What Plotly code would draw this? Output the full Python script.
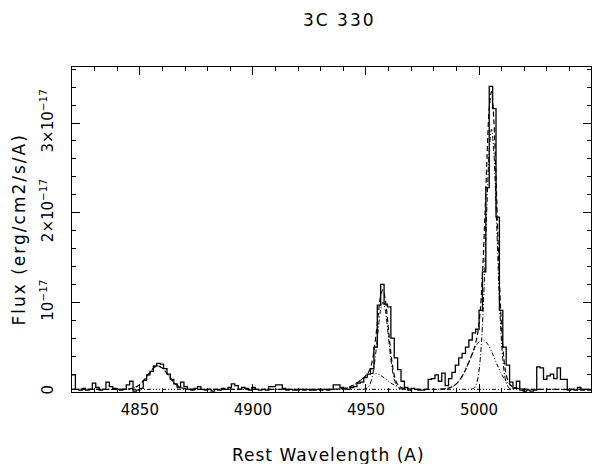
import numpy as np
import plotly.graph_objects as go

# ---------------- data (flux in units of 1e-17 erg/cm2/s/A) ----------------
bin_start = 4820.0
bin_width = 1.5
flux = [0.19, 0.03, 0.02, 0.04, 0.02, 0.03, 0.10, 0.05, 0.02, 0.03,
        0.11, 0.06, 0.04, 0.03, 0.02, 0.03, 0.08, 0.12, 0.01, 0.02,
        0.04, 0.13, 0.19, 0.23, 0.29, 0.32, 0.31, 0.26, 0.20, 0.14,
        0.09, 0.05, 0.11, 0.06,
        0.03, 0.02, 0.04, 0.06, 0.03, 0.02, 0.03, 0.01, 0.03, 0.02,
        0.04, 0.03, 0.05, 0.09, 0.07, 0.03, 0.05, 0.04, 0.02, 0.05,
        0.03, 0.02, 0.03, 0.02, 0.06, 0.06, 0.08, 0.08, 0.04, 0.02,
        0.03, 0.02, 0.02, 0.03, 0.02, 0.03, 0.02, 0.02, 0.03, 0.02,
        0.03, 0.02, 0.03, 0.08, 0.08, 0.05,
        0.04, 0.03, 0.05, 0.06, 0.10, 0.11, 0.16, 0.20, 0.26, 0.50,
        0.97, 1.20, 0.98, 0.95, 0.60, 0.38, 0.25, 0.12, 0.05, 0.02,
        0.04, 0.03, 0.02,
        0.02, 0.03, 0.14, 0.15, 0.19, 0.12, 0.21, 0.07, 0.15, 0.22,
        0.30, 0.38, 0.43, 0.50, 0.58, 0.66,
        0.70, 0.91, 1.34, 2.28, 3.41, 3.16, 1.95, 0.91, 0.50, 0.30,
        0.11, 0.04, 0.12, 0.02, 0.01,
        0.02, 0.01, 0.02, 0.28, 0.27, 0.14, 0.18, 0.20, 0.15, 0.27,
        0.14, 0.14, 0.02, 0.03, 0.02, 0.05, 0.02, 0.03, 0.02]

# total model (dashed)
fit_wl = [4820, 4840, 4842, 4844, 4846, 4848, 4850, 4852, 4854, 4856, 4858,
          4860, 4862, 4864, 4866, 4868, 4870, 4872, 4874, 4880, 4930, 4935.5,
          4937.5, 4938.5, 4939.5, 4940.5, 4941.5, 4942.5, 4943.5, 4944.5,
          4945.5, 4946.5, 4947.5, 4948.5, 4949.5, 4950.5, 4951.5, 4952.5,
          4953.5, 4954.5, 4955.5, 4956.5, 4957.5, 4958.5, 4959.5, 4960.5,
          4961.5, 4962.5, 4963.5, 4964.5, 4965.5, 4966.5, 4967.5, 4968.5,
          4969.5, 4971.5, 4976, 4981.5, 4983.5,
          4985.5, 4986.5, 4987.5, 4988.5, 4989.5, 4990.5, 4991.5, 4992.5,
          4993.5, 4994.5, 4995.5, 4996.5, 4997.5, 4998.5, 4999.5, 5000.5,
          5001.5, 5002.5, 5003.5, 5004.5, 5005.5, 5006.5, 5007.5, 5008.5,
          5009.5, 5010.5, 5011.5, 5012.5, 5013.5, 5014.5, 5015.5, 5016.5,
          5017.5, 5019.5, 5021.5, 5026, 5049.5]
fit_flux = [0.030, 0.030, 0.030, 0.032, 0.037, 0.052, 0.084, 0.137, 0.205, 0.266, 0.290,
            0.266, 0.205, 0.137, 0.084, 0.052, 0.037, 0.032, 0.030, 0.030, 0.030, 0.031,
            0.033, 0.034, 0.037, 0.041, 0.047, 0.054, 0.065, 0.077,
            0.093, 0.110, 0.129, 0.150, 0.172, 0.199, 0.241, 0.318,
            0.452, 0.651, 0.884, 1.074, 1.138, 1.038, 0.815, 0.554,
            0.334, 0.188, 0.107, 0.068, 0.051, 0.042, 0.037, 0.034,
            0.033, 0.031, 0.030, 0.031, 0.033,
            0.038, 0.044, 0.052, 0.064, 0.081, 0.104, 0.136, 0.174,
            0.221, 0.275, 0.334, 0.397, 0.463, 0.545, 0.673, 0.902,
            1.302, 1.899, 2.595, 3.163, 3.352, 3.053, 2.384, 1.603,
            0.943, 0.505, 0.264, 0.146, 0.092, 0.066, 0.052, 0.044,
            0.038, 0.033, 0.031, 0.030, 0.030]

# H-beta component (dotted)
hb_wl = [4842, 4844, 4846, 4848, 4850, 4852, 4854, 4856, 4858,
         4860, 4862, 4864, 4866, 4868, 4870, 4872, 4874]
hb_flux = [0.030, 0.032, 0.037, 0.052, 0.084, 0.137, 0.205, 0.266, 0.290,
           0.266, 0.205, 0.137, 0.084, 0.052, 0.037, 0.032, 0.030]

# [OIII] 4959 narrow (dash-dot)
n4959_wl = [4948.5, 4949.5, 4950.5, 4951.5, 4952.5, 4953.5, 4954.5, 4955.5, 4956.5, 4957.5,
            4958.5, 4959.5, 4960.5, 4961.5, 4962.5, 4963.5, 4964.5, 4965.5, 4966.5]
n4959_flux = [0.031, 0.034, 0.044, 0.073, 0.141, 0.272, 0.474, 0.716, 0.919, 1.000,
              0.919, 0.716, 0.474, 0.272, 0.141, 0.073, 0.044, 0.034, 0.031]

# [OIII] 4959 broad (dash-dot-dot)
b4959_wl = [4937.5, 4939.5, 4941.5, 4943.5, 4945.5, 4947.5, 4949.5, 4951.5, 4953.5,
            4955.5, 4957.5, 4959.5, 4961.5, 4963.5, 4965.5, 4967.5, 4969.5]
b4959_flux = [0.033, 0.037, 0.047, 0.065, 0.093, 0.129, 0.168, 0.198, 0.210,
              0.198, 0.168, 0.129, 0.093, 0.065, 0.047, 0.037, 0.033]

# [OIII] 5007 narrow (dash-dot)
n5007_wl = [4996.5, 4997.5, 4998.5, 4999.5, 5000.5, 5001.5, 5002.5, 5003.5, 5004.5, 5005.5,
            5006.5, 5007.5, 5008.5, 5009.5, 5010.5, 5011.5, 5012.5, 5013.5, 5014.5]
n5007_flux = [0.033, 0.041, 0.071, 0.158, 0.361, 0.752, 1.358, 2.080, 2.689, 2.930,
              2.689, 2.080, 1.358, 0.752, 0.361, 0.158, 0.071, 0.041, 0.033]

# [OIII] 5007 broad (dash-dot-dot)
b5007_wl = [4983.5, 4985.5, 4987.5, 4989.5, 4991.5, 4993.5, 4995.5, 4997.5, 4999.5, 5001.5,
            5003.5, 5005.5, 5007.5, 5009.5, 5011.5, 5013.5, 5015.5, 5017.5, 5019.5]
b5007_flux = [0.033, 0.038, 0.052, 0.081, 0.136, 0.221, 0.334, 0.452, 0.545, 0.580,
              0.545, 0.452, 0.334, 0.221, 0.136, 0.081, 0.052, 0.038, 0.033]

# continuum
cont_wl = [4820, 5049.5]
cont_flux = [0.03, 0.03]

y_tickvals = [0, 1, 2, 3]
y_ticktext = ["0", "10<sup>\u221217</sup>", "2\u00d710<sup>\u221217</sup>", "3\u00d710<sup>\u221217</sup>"]
x_tickvals = [4850, 4900, 4950, 5000]

# ---------------- figure ----------------
FONT = "DejaVu Sans"
edges = bin_start + bin_width * np.arange(len(flux) + 1)
step_y = list(flux) + [flux[-1]]

fig = go.Figure()
fig.add_trace(go.Scatter(x=cont_wl, y=cont_flux, mode="lines",
                         line=dict(color="black", width=1, dash="4px,2px,1px,2px,1px,2px,1px,2px")))
fig.add_trace(go.Scatter(x=hb_wl, y=hb_flux, mode="lines", line_shape="spline",
                         line=dict(color="black", width=1, dash="1px,2px")))
for wl, fl in [(n4959_wl, n4959_flux), (n5007_wl, n5007_flux)]:
    fig.add_trace(go.Scatter(x=wl, y=fl, mode="lines", line_shape="spline",
                             line=dict(color="black", width=1, dash="5px,2px,1px,2px")))
for wl, fl in [(b4959_wl, b4959_flux), (b5007_wl, b5007_flux)]:
    fig.add_trace(go.Scatter(x=wl, y=fl, mode="lines", line_shape="spline",
                             line=dict(color="black", width=1, dash="4px,2px,1px,2px,1px,2px")))
fig.add_trace(go.Scatter(x=fit_wl, y=fit_flux, mode="lines", line_shape="spline",
                         line=dict(color="black", width=1.2, dash="5px,3px")))
fig.add_trace(go.Scatter(x=edges, y=step_y, mode="lines", line_shape="hv",
                         line=dict(color="black", width=1.3)))

axis_common = dict(showline=True, linecolor="black", linewidth=1.2, mirror="allticks",
                   ticks="inside", ticklen=8, tickwidth=1, tickcolor="black",
                   showgrid=False, zeroline=False, automargin=False,
                   tickfont=dict(family=FONT, size=15, color="black"))

fig.update_xaxes(range=[4820, 5049.5], tickmode="array", tickvals=x_tickvals,
                 minor=dict(ticks="inside", ticklen=4, tickcolor="black", dtick=10, tick0=4820,
                            showgrid=False),
                 ticklabelstandoff=4, **axis_common)
fig.update_yaxes(range=[0, 3.625], tickmode="array", tickvals=y_tickvals, ticktext=y_ticktext,
                 tickangle=-90,
                 minor=dict(ticks="inside", ticklen=4, tickcolor="black", dtick=0.2, tick0=0,
                            showgrid=False),
                 ticklabelstandoff=12, **axis_common)

fig.update_layout(
    width=595, height=464, autosize=False,
    margin=dict(l=72, r=4, t=67, b=72),
    paper_bgcolor="white", plot_bgcolor="white",
    showlegend=False, hovermode=False,
    font=dict(family=FONT, size=15, color="black"),
    annotations=[
        dict(text='<span style="letter-spacing:2px">3C 330</span>', xref="paper", yref="paper",
             x=0.515, y=1, yshift=47,
             xanchor="center", yanchor="middle", showarrow=False,
             font=dict(family=FONT, size=17, color="black")),
        dict(text='<span style="letter-spacing:1px">Rest Wavelength (A)</span>', xref="paper",
             yref="paper", x=0.495, y=0, yshift=-63,
             xanchor="center", yanchor="middle", showarrow=False,
             font=dict(family=FONT, size=17, color="black")),
        dict(text='<span style="letter-spacing:2px">Flux (erg/cm2/s/A)</span>', xref="paper",
             yref="paper", x=0, y=0.5, xshift=-54,
             xanchor="center", yanchor="middle", textangle=-90, showarrow=False,
             font=dict(family=FONT, size=17, color="black")),
    ],
)

fig.write_html("out.html", config={"responsive": False, "displayModeBar": False},
               post_script="document.body.style.margin='0';document.body.style.overflow='hidden';")
